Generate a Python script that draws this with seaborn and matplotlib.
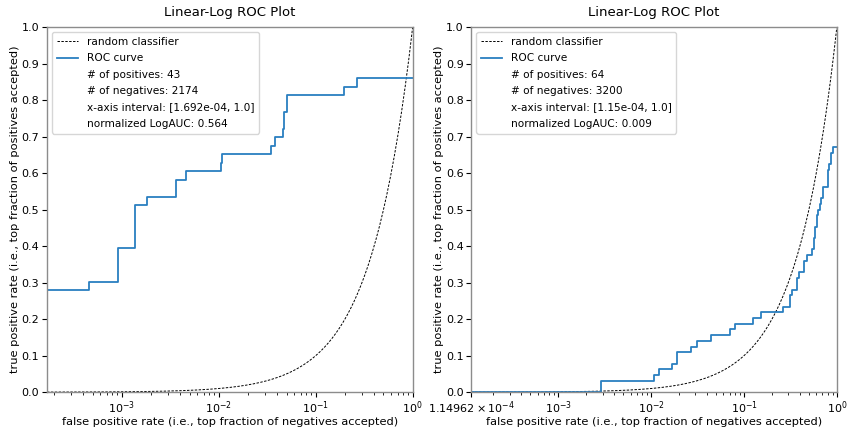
import numpy as np
import matplotlib
matplotlib.use("Agg")
import matplotlib.pyplot as plt
import seaborn as sns

# left panel data
left_xmin = 1.692e-4
left_fpr = [1.692e-4, 4.59e-4, 9.2e-4, 1.38e-3, 1.83e-3, 3.66e-3, 4.57e-3, 0.0105, 0.0108,
            0.0345, 0.0376, 0.0461, 0.0475, 0.0506, 0.196, 0.264, 1.0]
left_tpr = [0.279, 0.302, 0.395, 0.512, 0.535, 0.581, 0.605, 0.628, 0.651,
            0.674, 0.698, 0.721, 0.767, 0.814, 0.837, 0.860, 0.860]
left_info = ["# of positives: 43", "# of negatives: 2174",
             "x-axis interval: [1.692e-04, 1.0]", "normalized LogAUC: 0.564"]

# right panel data
right_xmin = 1.14962e-4
right_fpr = [1.14962e-4, 2.86e-3, 0.01064, 0.01225, 0.0168, 0.019, 0.0269, 0.0308, 0.0436,
             0.070, 0.0794, 0.126, 0.153, 0.262, 0.312, 0.328, 0.368, 0.394, 0.446, 0.477,
             0.535, 0.571, 0.586, 0.611, 0.631, 0.658, 0.679, 0.703, 0.745, 0.795, 0.829,
             0.864, 0.902, 1.0]
right_tpr = [0.0, 0.031, 0.047, 0.0625, 0.078, 0.109, 0.125, 0.141, 0.156,
             0.172, 0.1875, 0.203, 0.219, 0.234, 0.266, 0.281, 0.3125, 0.328, 0.359, 0.375,
             0.391, 0.422, 0.453, 0.484, 0.5, 0.516, 0.531, 0.562, 0.562, 0.609, 0.625,
             0.656, 0.672, 0.672]
right_info = ["# of positives: 64", "# of negatives: 3200",
              "x-axis interval: [1.15e-04, 1.0]", "normalized LogAUC: 0.009"]

plt.rcParams['font.family'] = ['DejaVu Sans']
plt.rcParams['font.size'] = 8
plt.rcParams['xtick.major.pad'] = 1.5
plt.rcParams['ytick.major.pad'] = 2

fig, axes = plt.subplots(1, 2, figsize=(8.47, 4.3), dpi=100)
plt.subplots_adjust(left=0.0555, right=0.988, bottom=0.088, top=0.937, wspace=0.16)

panels = [(axes[0], left_xmin, left_fpr, left_tpr, left_info),
          (axes[1], right_xmin, right_fpr, right_tpr, right_info)]

for ax, xmin, fpr, tpr, info in panels:
    # random classifier y = x, drawn densely so it curves on the log axis
    diag = np.logspace(np.log10(xmin), 0, 300)
    ax.plot(diag, diag, '--', color='black', linewidth=0.7, dashes=(2.5, 1.5),
            label='random classifier')
    sns.lineplot(x=fpr, y=tpr, ax=ax, drawstyle='steps-post', sort=False, estimator=None,
                 color='#2a7fc0', linewidth=1.3, label='ROC curve')
    for line in info:
        ax.plot([], [], ' ', label=line)
    ax.set_xscale('log')
    ax.set_xlim(xmin, 1.0)
    ax.set_ylim(0, 1.0)
    ax.set_yticks(np.arange(0, 1.01, 0.1))
    ax.tick_params(labelsize=8)
    ax.set_title('Linear-Log ROC Plot', fontsize=9.5, pad=8)
    ax.set_xlabel('false positive rate (i.e., top fraction of negatives accepted)',
                  fontsize=8.2, labelpad=1)
    ax.set_ylabel('true positive rate (i.e., top fraction of positives accepted)',
                  fontsize=8.2, labelpad=1)
    for sp in ax.spines.values():
        sp.set_color('0.55')
        sp.set_linewidth(1.0)
    ax.legend(loc='upper left', fontsize=7.6, handlelength=2.0, borderpad=0.45,
              labelspacing=0.6, handletextpad=0.8)

axes[1].set_xticks([right_xmin, 1e-3, 1e-2, 1e-1, 1.0])
axes[1].set_xticklabels([r'$1.14962\times10^{-4}$', r'$10^{-3}$', r'$10^{-2}$',
                         r'$10^{-1}$', r'$10^{0}$'])

plt.savefig('out.png', dpi=100)
